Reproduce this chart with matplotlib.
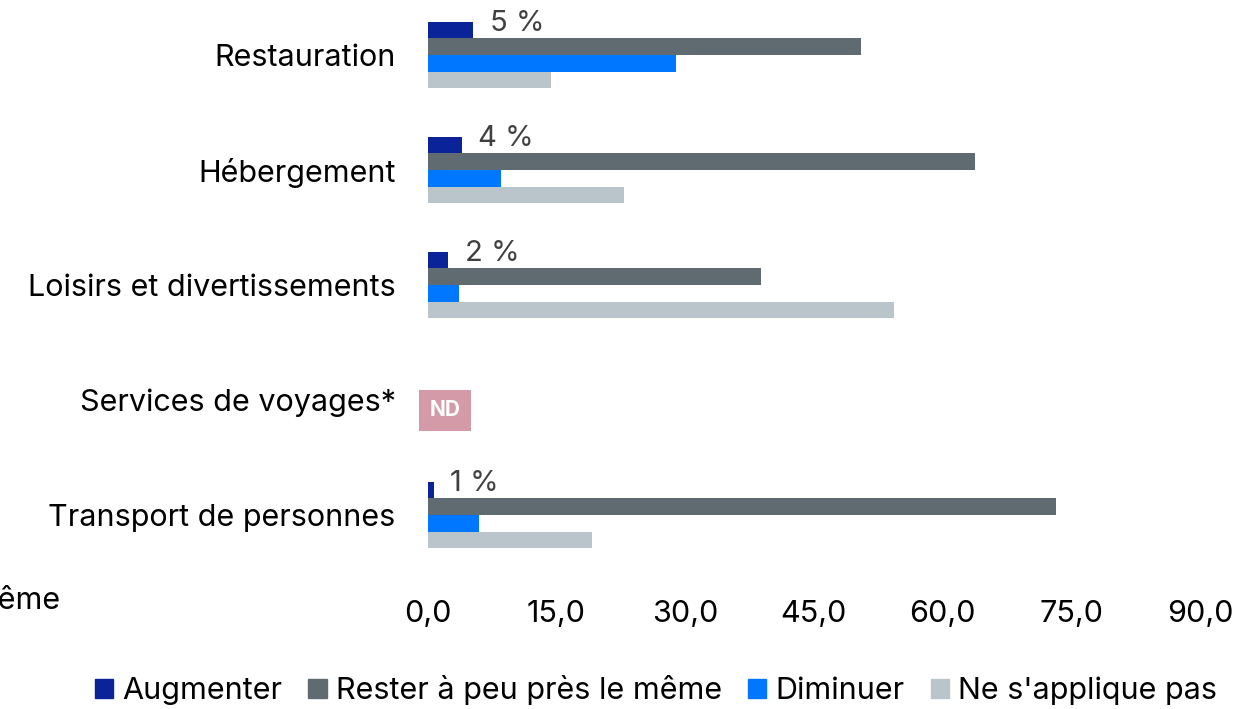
import matplotlib.pyplot as plt
import numpy as np
from matplotlib.patches import Patch

plt.rcParams['font.family'] = ['Inter', 'DejaVu Sans']

categories = ["Restauration", "Hébergement", "Loisirs et divertissements",
              "Services de voyages*", "Transport de personnes"]
series = ["Augmenter", "Rester à peu près le même", "Diminuer", "Ne s'applique pas"]
augmenter = [5.3, 4.0, 2.4, 0.7]
rester = [50.5, 63.8, 38.8, 73.2]
diminuer = [29.0, 8.6, 3.7, 6.0]
ne_sapplique_pas = [14.4, 22.9, 54.4, 19.2]
value_labels = ["5 %", "4 %", "2 %", "1 %"]
# categories with data (Services de voyages* is "ND")
data_rows = [0, 1, 2, 4]
nd_rows = [3]

colors = ["#0a2399", "#5f6a71", "#0077ff", "#bac4cb"]
W, H = 1248, 709

fig = plt.figure(figsize=(W / 100, H / 100), dpi=100)
left, right = 427.5, 1200
top, bottom = -2.5, 572.5
ax = fig.add_axes([left / W, 1 - bottom / H, (right - left) / W, (bottom - top) / H])

bh = 0.1435
vals = [augmenter, rester, diminuer, ne_sapplique_pas]
y = np.array(data_rows, dtype=float)
for k, (v, c) in enumerate(zip(vals, colors)):
    ax.barh(y + (k - 1.5) * bh, v, height=bh, color=c, label=series[k])

for yi, a, lab in zip(y, augmenter, value_labels):
    ax.annotate(lab, xy=(a, yi - 1.5 * bh), xytext=(12, 5), textcoords="offset points",
                ha="left", va="center", fontsize=21, color="#404040")

for r in nd_rows:
    ax.text(2.04, r + 0.09, "ND", ha="center", va="center", fontsize=15,
            fontweight="bold", color="white",
            bbox=dict(boxstyle="square,pad=0.5", fc="#d49aa7", ec="none"))

ax.set_xlim(0, 90)
ax.set_ylim(4.5, -0.5)
ax.set_xticks(np.arange(0, 91, 15))
ax.set_xticklabels([f"{t:.1f}".replace(".", ",") for t in np.arange(0, 91, 15)])
ax.set_yticks(range(len(categories)))
ax.set_yticklabels(categories)
ax.tick_params(axis="both", length=0, labelsize=22)
ax.tick_params(axis="y", pad=23)
ax.tick_params(axis="x", pad=20)
for s in ax.spines.values():
    s.set_visible(False)

# clipped axis title remnant at the left edge
fig.text(60 / W, 1 - 600 / H, "Rester à peu près le même", ha="right", va="center",
         fontsize=22)

handles = [Patch(color=c) for c in colors]
fig.legend(handles, series, loc="center", bbox_to_anchor=(656 / W, 1 - 690 / H),
           ncol=4, frameon=False, fontsize=22, handlelength=0.6, handleheight=0.6,
           handletextpad=0.3, columnspacing=0.85)

fig.savefig("out.png", dpi=100)
